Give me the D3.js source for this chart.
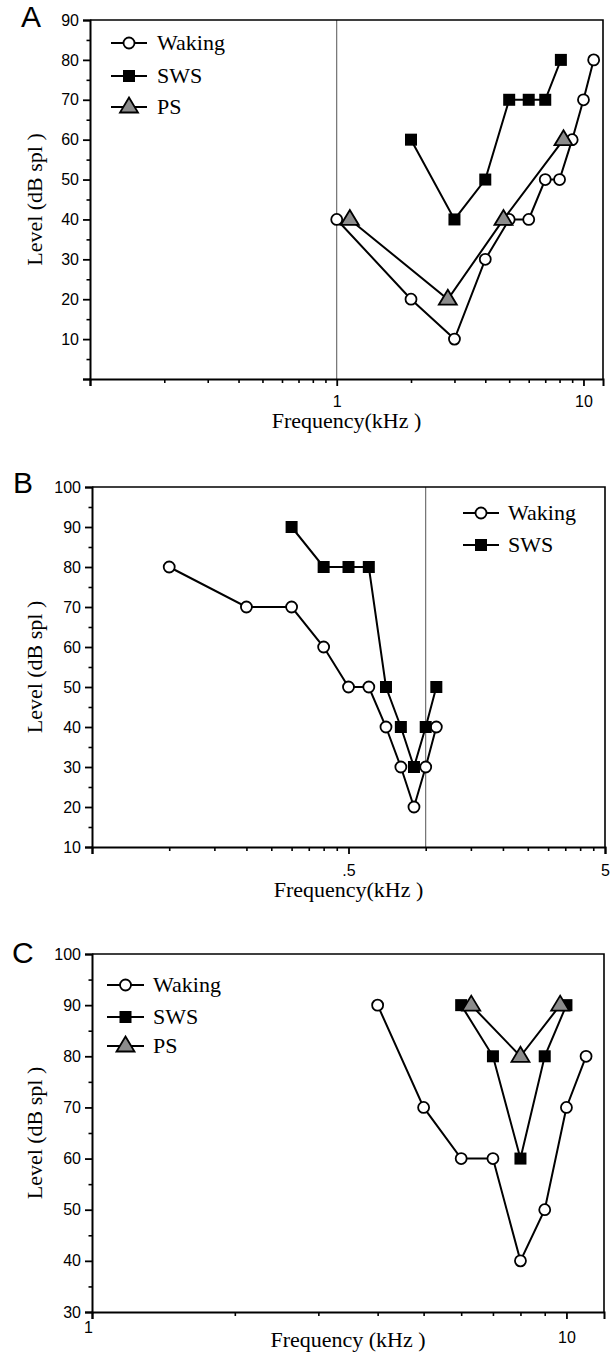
<!DOCTYPE html>
<html>
<head>
<meta charset="utf-8">
<script src="https://cdn.jsdelivr.net/npm/d3@7"></script>
<style>
  body { margin: 0; background: #fff; }
  svg { display: block; }
</style>
</head>
<body>
<script>
// Panel A - frequency (kHz) and level (dB spl)
const aWakingFreq = [1, 2, 3, 4, 5, 6, 7, 8, 9, 10, 11];
const aWakingLevel = [40, 20, 10, 30, 40, 40, 50, 50, 60, 70, 80];
const aSwsFreq = [2, 3, 4, 5, 6, 7, 8.1];
const aSwsLevel = [60, 40, 50, 70, 70, 70, 80];
const aPsFreq = [1.13, 2.82, 4.74, 8.3];
const aPsLevel = [40, 20, 40, 60];

// Panel B
const bWakingFreq = [0.1, 0.2, 0.3, 0.4, 0.5, 0.6, 0.7, 0.8, 0.9, 1.0, 1.1];
const bWakingLevel = [80, 70, 70, 60, 50, 50, 40, 30, 20, 30, 40];
const bSwsFreq = [0.3, 0.4, 0.5, 0.6, 0.7, 0.8, 0.9, 1.0, 1.1];
const bSwsLevel = [90, 80, 80, 80, 50, 40, 30, 40, 50];

// Panel C
const cWakingFreq = [4, 5, 6, 7, 8, 9, 10, 11];
const cWakingLevel = [90, 70, 60, 60, 40, 50, 70, 80];
const cSwsFreq = [6, 7, 8, 9, 10];
const cSwsLevel = [90, 80, 60, 80, 90];
const cPsFreq = [6.3, 8, 9.7];
const cPsLevel = [90, 80, 90];

// tick labels
const aXTickLabels = ["", "1", "10"];
const bXTickLabels = ["", ".5", "5"];
const cXTickLabels = ["1", "10"];

const serif = "'Liberation Serif', 'Times New Roman', serif";
const sans = "'Liberation Sans', Arial, sans-serif";

const svg = d3.select("body").append("svg")
  .attr("width", 613)
  .attr("height", 1355);

const zip = (xs, ys) => xs.map((x, i) => ({x: x, y: ys[i]}));

// marker drawing
function marker(g, type, cx, cy) {
  if (type === "waking") {
    g.append("circle").attr("cx", cx).attr("cy", cy).attr("r", 5.5)
      .attr("fill", "#fff").attr("stroke", "#000").attr("stroke-width", 1.8);
  } else if (type === "sws") {
    g.append("rect").attr("x", cx - 6).attr("y", cy - 6)
      .attr("width", 12).attr("height", 12).attr("fill", "#000");
  } else {
    g.append("path")
      .attr("d", `M${cx},${cy - 9.5}L${cx + 9},${cy + 5.5}L${cx - 9},${cy + 5.5}Z`)
      .attr("fill", "#8c8c8c").attr("stroke", "#000").attr("stroke-width", 1.8)
      .attr("stroke-linejoin", "miter");
  }
}

function drawPanel(p) {
  const x = d3.scaleLog().domain(p.xDomain).range([p.left, p.right]);
  const y = d3.scaleLinear().domain(p.yDomain).range([p.bottom, p.top]);
  const g = svg.append("g");

  // reference line at 1 kHz
  if (p.refLine) {
    g.append("line")
      .attr("x1", x(p.refLine)).attr("x2", x(p.refLine))
      .attr("y1", p.top).attr("y2", p.bottom)
      .attr("stroke", "#555").attr("stroke-width", 1);
  }

  // frame (top/right)
  g.append("path")
    .attr("d", `M${p.left},${p.top}H${p.right}V${p.bottom}`)
    .attr("fill", "none").attr("stroke", "#000").attr("stroke-width", 1.6);

  // y axis
  const yAxis = g.append("g")
    .attr("transform", `translate(${p.left},0)`)
    .call(d3.axisLeft(y).tickValues(p.yMajor).tickSize(7).tickPadding(4)
      .tickFormat(d => d === p.yHidden ? "" : d));
  yAxis.select(".domain").attr("stroke-width", 2);
  yAxis.selectAll(".tick line").attr("stroke-width", 1.8);
  yAxis.selectAll("text").attr("font-family", sans).attr("font-size", 16).attr("fill", "#000");

  g.append("g")
    .attr("transform", `translate(${p.left},0)`)
    .call(d3.axisLeft(y).tickValues(p.yMinor).tickSize(3.5).tickFormat(""))
    .call(s => s.select(".domain").remove())
    .selectAll("line").attr("stroke-width", 1.6);

  // x axis
  const xAxis = g.append("g")
    .attr("transform", `translate(0,${p.bottom})`)
    .call(d3.axisBottom(x).tickValues(p.xMajor).tickSize(7)
      .tickFormat((d, i) => p.xLabels[i]));
  xAxis.select(".domain").attr("stroke-width", 2);
  xAxis.selectAll(".tick line").attr("stroke-width", 1.8);
  xAxis.selectAll("text").attr("font-family", sans).attr("font-size", 16).attr("fill", "#000")
    .attr("dy", null).attr("y", (d, i) => p.xLabelY[i])
    .attr("dx", (d, i) => p.xLabelDx ? p.xLabelDx[i] : 0);

  g.append("g")
    .attr("transform", `translate(0,${p.bottom})`)
    .call(d3.axisBottom(x).tickValues(p.xMinor).tickSize(4).tickFormat(""))
    .call(s => s.select(".domain").remove())
    .selectAll("line").attr("stroke-width", 1.6);

  // axis titles
  g.append("text")
    .attr("x", (p.left + p.right) / 2).attr("y", p.xTitleY)
    .attr("text-anchor", "middle")
    .attr("font-family", serif).attr("font-size", 22)
    .text(p.xTitle);

  g.append("text")
    .attr("transform", `translate(42,${(p.top + p.bottom) / 2}) rotate(-90)`)
    .attr("text-anchor", "middle")
    .attr("font-family", serif).attr("font-size", 22)
    .text("Level (dB spl )");

  // panel letter
  g.append("text")
    .attr("x", p.letterX).attr("y", p.letterY)
    .attr("font-family", sans).attr("font-size", 30)
    .text(p.letter);

  // series
  const line = d3.line().x(d => x(d.x)).y(d => y(d.y));
  p.series.forEach(s => {
    g.append("path").datum(s.data)
      .attr("d", line)
      .attr("fill", "none").attr("stroke", "#000").attr("stroke-width", 2);
  });
  p.series.forEach(s => {
    const mg = g.append("g");
    s.data.forEach(d => marker(mg, s.type, x(d.x), y(d.y)));
  });

  // legend
  const leg = g.append("g");
  p.legend.rows.forEach((r, i) => {
    const ly = p.legend.ys[i];
    leg.append("line")
      .attr("x1", p.legend.x1).attr("x2", p.legend.x2)
      .attr("y1", ly).attr("y2", ly)
      .attr("stroke", "#000").attr("stroke-width", 2);
    marker(leg, r.type, (p.legend.x1 + p.legend.x2) / 2, ly);
    leg.append("text")
      .attr("x", p.legend.tx).attr("y", ly + 7)
      .attr("font-family", serif).attr("font-size", 22)
      .text(r.name);
  });
}

drawPanel({
  letter: "A", letterX: 21, letterY: 27,
  left: 90, right: 603, top: 20, bottom: 379,
  xDomain: [0.1, 12], yDomain: [0, 90],
  yMajor: d3.range(0, 91, 10), yMinor: d3.range(5, 90, 10), yHidden: 0,
  xMajor: [0.1, 1, 10], xLabels: aXTickLabels, xLabelY: [28, 28, 28],
  xMinor: [0.2, 0.3, 0.4, 0.5, 0.6, 0.7, 0.8, 0.9, 2, 3, 4, 5, 6, 7, 8, 9],
  refLine: 1,
  xTitle: "Frequency(kHz )", xTitleY: 428,
  series: [
    {type: "waking", data: zip(aWakingFreq, aWakingLevel)},
    {type: "sws", data: zip(aSwsFreq, aSwsLevel)},
    {type: "ps", data: zip(aPsFreq, aPsLevel)}
  ],
  legend: {x1: 111, x2: 147, tx: 157, ys: [43, 76, 107],
    rows: [{type: "waking", name: "Waking"}, {type: "sws", name: "SWS"}, {type: "ps", name: "PS"}]}
});

drawPanel({
  letter: "B", letterX: 13, letterY: 493,
  left: 92, right: 605, top: 487, bottom: 847,
  xDomain: [0.05, 5], yDomain: [10, 100],
  yMajor: d3.range(10, 101, 10), yMinor: d3.range(15, 100, 10), yHidden: null,
  xMajor: [0.05, 0.5, 5], xLabels: bXTickLabels, xLabelY: [29, 29, 29],
  xMinor: [0.1, 0.15, 0.2, 0.25, 0.3, 0.35, 0.4, 0.45, 1, 1.5, 2, 2.5, 3, 3.5, 4, 4.5],
  refLine: 1,
  xTitle: "Frequency(kHz )", xTitleY: 897,
  series: [
    {type: "waking", data: zip(bWakingFreq, bWakingLevel)},
    {type: "sws", data: zip(bSwsFreq, bSwsLevel)}
  ],
  legend: {x1: 463, x2: 499, tx: 508, ys: [513, 545],
    rows: [{type: "waking", name: "Waking"}, {type: "sws", name: "SWS"}]}
});

drawPanel({
  letter: "C", letterX: 12, letterY: 963,
  left: 92, right: 604, top: 954, bottom: 1312,
  xDomain: [1, 12], yDomain: [30, 100],
  yMajor: d3.range(30, 101, 10), yMinor: d3.range(35, 100, 10), yHidden: null,
  xMajor: [1, 10], xLabels: cXTickLabels, xLabelY: [21, 31], xLabelDx: [-4, 0],
  xMinor: [2, 3, 4, 5, 6, 7, 8, 9],
  refLine: null,
  xTitle: "Frequency (kHz )", xTitleY: 1347,
  series: [
    {type: "waking", data: zip(cWakingFreq, cWakingLevel)},
    {type: "sws", data: zip(cSwsFreq, cSwsLevel)},
    {type: "ps", data: zip(cPsFreq, cPsLevel)}
  ],
  legend: {x1: 107, x2: 144, tx: 153, ys: [985, 1017, 1046],
    rows: [{type: "waking", name: "Waking"}, {type: "sws", name: "SWS"}, {type: "ps", name: "PS"}]}
});
</script>
</body>
</html>
